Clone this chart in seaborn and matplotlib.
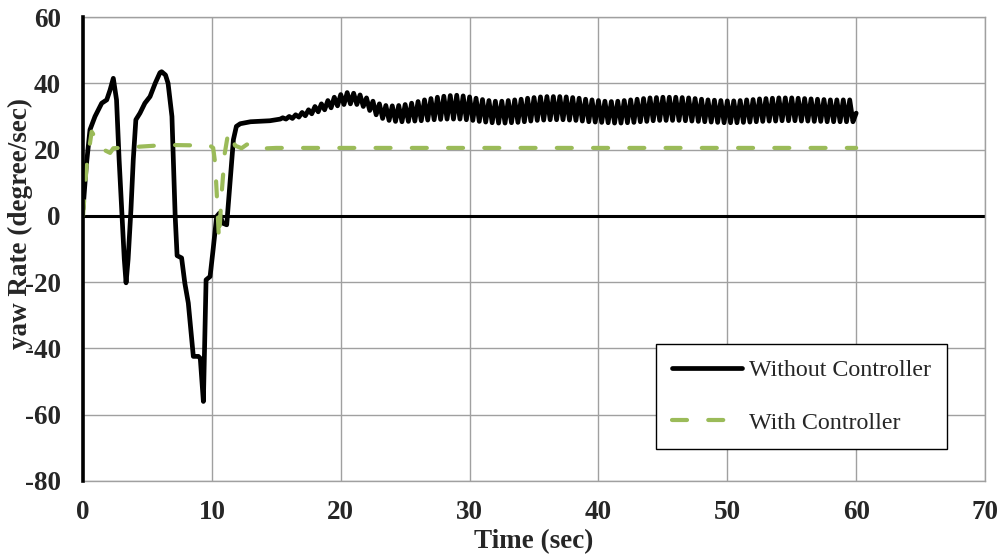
import numpy as np
import pandas as pd
import matplotlib
matplotlib.use('Agg')
import matplotlib.pyplot as plt
import seaborn as sns

# Without controller: transient part
trans_t = [0, 0.25, 0.54, 0.93, 1.45, 1.84, 2.1, 2.35, 2.6, 2.8, 3.0, 3.2, 3.34, 3.5,
           3.72, 3.9, 4.1, 4.42, 4.8, 5.2, 5.6, 5.97, 6.1, 6.4, 6.6, 6.9, 7.15, 7.3,
           7.65, 7.9, 8.17, 8.56, 8.95, 9.1, 9.34, 9.55, 9.86, 10.1, 10.37, 10.58,
           10.84, 11.15, 11.41, 11.67, 11.9, 12.2, 13.0, 14.5, 15.3]
trans_v = [2, 15, 26, 30, 34, 35, 38, 41.5, 35, 17, 1.8, -13, -20.2, -13,
           2, 17, 29, 31, 34, 36, 40, 43.2, 43.5, 42.5, 40, 30, 0, -12,
           -12.7, -20.3, -26.3, -42.4, -42.4, -43, -56, -19.3, -18.3, -10, -0.2, 0.8,
           -2.2, -2.7, 10, 23, 27, 27.8, 28.4, 28.7, 29.2]

# Without controller: oscillating part, one peak and one trough every 0.5 s from 15.5 s
osc_start = 15.5
osc_period = 0.5
osc_peak = [29.6, 30.0, 30.5, 31.2, 32.0, 33.0, 33.8, 34.8, 35.8, 36.6,
            37.2, 37.0, 36.5, 35.6, 34.6, 33.8, 33.3, 33.2, 33.3, 33.6,
            34.0, 34.5, 35.0, 35.4, 35.8, 36.1, 36.3, 36.4, 36.2, 35.9,
            35.5, 35.1, 34.8, 34.6, 34.6, 34.8, 35.0, 35.2, 35.5, 35.7,
            35.9, 36.0, 36.0, 36.0, 35.9, 35.7, 35.5, 35.2, 35.0, 34.8,
            34.6, 34.5, 34.6, 34.8, 35.0, 35.2, 35.4, 35.6, 35.7, 35.8,
            35.8, 35.8, 35.7, 35.6, 35.4, 35.2, 35.0, 34.9, 34.8, 34.7,
            34.7, 34.8, 35.0, 35.1, 35.3, 35.4, 35.5, 35.6, 35.6, 35.6,
            35.5, 35.4, 35.3, 35.2, 35.1, 35.0, 35.0, 35.0, 35.0]
osc_trough = [29.2, 29.4, 29.8, 30.2, 30.8, 31.4, 32.0, 32.6, 33.2, 33.6,
              33.8, 33.6, 33.0, 31.8, 30.5, 29.4, 28.8, 28.5, 28.4, 28.5,
              28.6, 28.7, 28.9, 29.0, 29.1, 29.2, 29.2, 29.2, 29.0, 28.8,
              28.5, 28.3, 28.1, 28.0, 28.0, 28.1, 28.2, 28.4, 28.6, 28.8,
              28.9, 29.0, 29.0, 29.0, 28.9, 28.8, 28.6, 28.4, 28.3, 28.2,
              28.1, 28.0, 28.0, 28.1, 28.2, 28.4, 28.5, 28.7, 28.8, 28.8,
              28.8, 28.8, 28.7, 28.6, 28.5, 28.4, 28.3, 28.2, 28.1, 28.1,
              28.1, 28.2, 28.3, 28.4, 28.5, 28.6, 28.6, 28.7, 28.7, 28.7,
              28.6, 28.6, 28.5, 28.5, 28.4, 28.4, 28.4, 28.4, 28.4]
end_t, end_v = 60.0, 31.0

# With controller
ctrl_t = [0, 0.28, 0.67, 0.9, 1.2, 1.58, 2.1, 2.35, 3.65, 6.5, 9.85, 10.1, 10.25,
          10.4, 10.55, 10.76, 11.0, 11.28, 11.54, 11.8, 12.3, 12.7, 13.0, 13.4,
          13.8, 15.0, 60.0]
ctrl_v = [0, 15, 25.4, 24, 21.5, 20, 19, 20.4, 20.7, 21.4, 21.2, 20.5, 16,
          5, -7.2, 6.8, 18.9, 25.4, 24, 21.2, 20.4, 21.5, 21.9, 21.0,
          20.3, 20.5, 20.5]

x_ticks = [0, 10, 20, 30, 40, 50, 60, 70]
y_ticks = [-80, -60, -40, -20, 0, 20, 40, 60]

# assemble the black series
osc_t = osc_start + osc_period * np.arange(len(osc_peak))
osc_x = np.ravel(np.column_stack([osc_t, osc_t + osc_period / 2]))
osc_y = np.ravel(np.column_stack([osc_peak, osc_trough]))
no_ctrl = pd.DataFrame({'t': np.concatenate([trans_t, osc_x, [end_t]]),
                        'v': np.concatenate([trans_v, osc_y, [end_v]])})
with_ctrl = pd.DataFrame({'t': ctrl_t, 'v': ctrl_v})

sns.set_theme(style='white')
plt.rcParams['font.family'] = ['Liberation Serif', 'DejaVu Serif']
plt.rcParams['axes.unicode_minus'] = False

fig = plt.figure(figsize=(10.04, 5.56), dpi=100)
ax = fig.add_axes([0.0827, 0.1349, 0.8984, 0.8345])

ax.set_xlim(0, 70)
ax.set_ylim(-80, 60)
ax.set_xticks(x_ticks)
ax.set_yticks(y_ticks)
ax.grid(True, color='#A0A0A0', linewidth=1.0)
ax.set_axisbelow(True)
ax.axhline(0, color='black', linewidth=2.2, zorder=1.5)

sns.lineplot(data=no_ctrl, x='t', y='v', ax=ax, color='black', linewidth=3.4,
             sort=False, estimator=None, label='Without Controller', zorder=3,
             solid_joinstyle='round', solid_capstyle='round')
sns.lineplot(data=with_ctrl, x='t', y='v', ax=ax, color='#9BBB59', linewidth=3.0,
             sort=False, estimator=None, label='With Controller',
             linestyle=(0, (3.6, 5.1)), dash_capstyle='round',
             dash_joinstyle='round', zorder=4)

for side in ['top', 'right', 'bottom']:
    ax.spines[side].set_color('#A0A0A0')
    ax.spines[side].set_linewidth(1.0)
ax.spines['left'].set_color('black')
ax.spines['left'].set_linewidth(2.6)
ax.spines['left'].set_zorder(5)

ax.tick_params(axis='both', length=0, labelsize=19.5)
ax.tick_params(axis='x', pad=14)
ax.tick_params(axis='y', pad=16)
for lab in ax.get_xticklabels() + ax.get_yticklabels():
    lab.set_fontweight('bold')

ax.set_xlabel('Time (sec)', fontsize=19.5, fontweight='bold')
ax.set_ylabel('yaw Rate (degree/sec)', fontsize=19.5, fontweight='bold')
ax.xaxis.set_label_coords(0.5, -0.104)
ax.yaxis.set_label_coords(-0.056, 0.556)

leg = ax.legend(loc='center', bbox_to_anchor=(0.7966, 0.182), fontsize=17.3,
                frameon=True, fancybox=False, edgecolor='black', framealpha=1,
                handlelength=2.9, handletextpad=0.3, labelspacing=1.27,
                borderpad=0.66)
leg.get_frame().set_linewidth(1.0)

fig.savefig('out.png', dpi=100)
